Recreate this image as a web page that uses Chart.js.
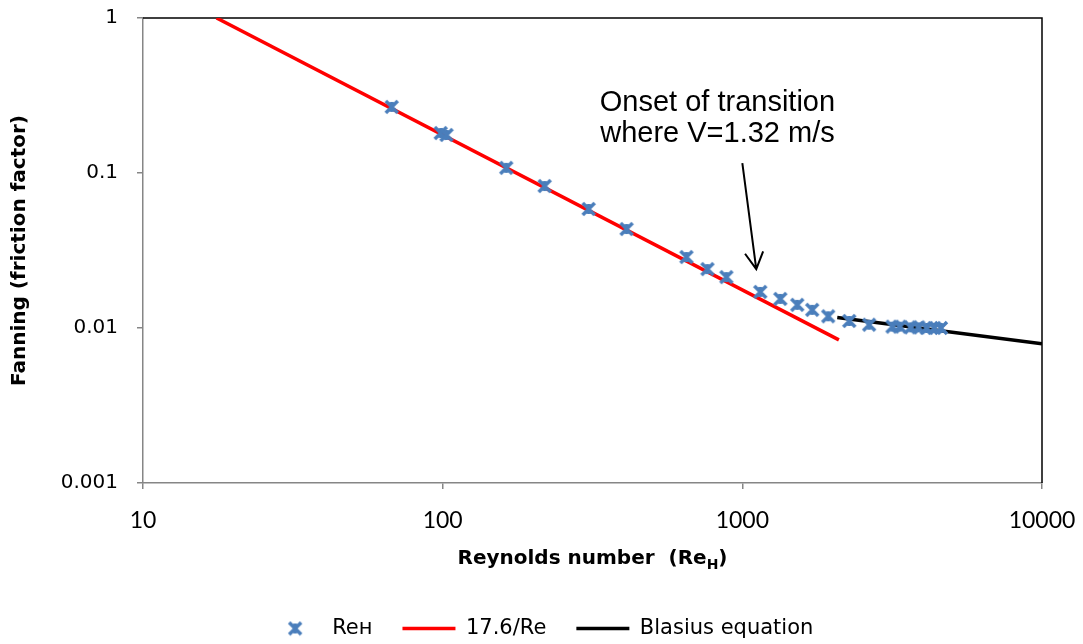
<!DOCTYPE html>
<html>
<head>
<meta charset="utf-8">
<script src="https://cdn.jsdelivr.net/npm/chart.js@4.4.1/dist/chart.umd.min.js"></script>
<style>
  html, body { margin: 0; padding: 0; background: #fff; }
</style>
</head>
<body>
<canvas id="frictionChart" width="1083" height="644"></canvas>
<script>
// measured points: Reynolds number (Re_H) vs Fanning friction factor
const reH = [67.6, 98.5, 103, 163, 219, 307, 411, 651, 765, 885, 1148, 1339, 1525, 1711, 1935, 2274, 2650, 3170, 3350, 3650, 3870, 4120, 4370, 4600];
const fanning = [0.267, 0.181, 0.176, 0.108, 0.0824, 0.0586, 0.0435, 0.0287, 0.0240, 0.0213, 0.0171, 0.0154, 0.0141, 0.0131, 0.0119, 0.0111, 0.0105, 0.0102, 0.0102, 0.0101, 0.0101, 0.0100, 0.0100, 0.0100];

// 17.6/Re line, end points
const laminarRe = [17.6, 2100];
const laminarF = [1, 0.00838];

// Blasius equation, end points
const blasiusRe = [2074, 10000];
const blasiusF = [0.0117, 0.00791];

const xTicks = [10, 100, 1000, 10000];
const yTicks = [0.001, 0.01, 0.1, 1];

// annotation (data coords)
const noteLines = ['Onset of transition', 'where V=1.32 m/s'];
const noteRe = 826;
const noteF = [0.251, 0.158];
const arrowFrom = [1000, 0.116];
const arrowTo = [1113, 0.024];

const toPoints = (xs, ys) => xs.map((x, i) => ({ x: x, y: ys[i] }));

// Excel style star marker (x with a vertical bar)
function starMarker(color) {
    const c = document.createElement('canvas');
    c.width = 16;
    c.height = 16;
    const g = c.getContext('2d');
    g.strokeStyle = color;
    g.lineWidth = 3.5;
    g.beginPath();
    g.moveTo(2, 2); g.lineTo(14, 14);
    g.moveTo(14, 2); g.lineTo(2, 14);
    g.moveTo(8, 3); g.lineTo(8, 13);
    g.stroke();
    return c;
}
const marker = starMarker('#4A7EBB');

const titleFont = '"DejaVu Sans", sans-serif';

const extras = {
    id: 'extras',
    afterLayout(chart) {
        chart.legend.left += 40;
        chart.legend.top += 5;
        chart.legend.bottom += 5;
    },
    beforeDatasetsDraw(chart) {
        const { ctx, chartArea: a } = chart;
        ctx.save();
        ctx.strokeStyle = '#000';
        ctx.lineWidth = 1.5;
        ctx.beginPath();
        ctx.moveTo(a.left, a.top);
        ctx.lineTo(a.right, a.top);
        ctx.lineTo(a.right, a.bottom);
        ctx.stroke();
        ctx.restore();
    },
    afterDraw(chart) {
        const { ctx, chartArea: a } = chart;
        const xs = chart.scales.x, ys = chart.scales.y;
        ctx.save();

        // note text
        ctx.fillStyle = '#000';
        ctx.font = '29px "Liberation Sans", Arial, sans-serif';
        ctx.textAlign = 'center';
        ctx.textBaseline = 'alphabetic';
        noteLines.forEach((t, i) => {
            ctx.fillText(t, xs.getPixelForValue(noteRe), ys.getPixelForValue(noteF[i]));
        });

        // arrow
        const x1 = xs.getPixelForValue(arrowFrom[0]), y1 = ys.getPixelForValue(arrowFrom[1]);
        const x2 = xs.getPixelForValue(arrowTo[0]), y2 = ys.getPixelForValue(arrowTo[1]);
        const ang = Math.atan2(y2 - y1, x2 - x1);
        ctx.strokeStyle = '#000';
        ctx.lineWidth = 2;
        ctx.beginPath();
        ctx.moveTo(x1, y1);
        ctx.lineTo(x2, y2);
        ctx.moveTo(x2 - 19 * Math.cos(ang - 0.5), y2 - 19 * Math.sin(ang - 0.5));
        ctx.lineTo(x2, y2);
        ctx.lineTo(x2 - 19 * Math.cos(ang + 0.5), y2 - 19 * Math.sin(ang + 0.5));
        ctx.stroke();

        // x axis title with subscript H
        const main = 'Reynolds number  (Re';
        const big = 'bold 20px ' + titleFont;
        const small = 'bold 14px ' + titleFont;
        ctx.font = big;
        const w1 = ctx.measureText(main).width;
        const w3 = ctx.measureText(')').width;
        ctx.font = small;
        const w2 = ctx.measureText('H').width;
        const cx = (a.left + a.right) / 2;
        const base = a.bottom + 81;
        let x = cx - (w1 + w2 + w3) / 2;
        ctx.textAlign = 'left';
        ctx.font = big;
        ctx.fillText(main, x, base);
        x += w1;
        ctx.font = small;
        ctx.fillText('H', x, base + 5);
        x += w2;
        ctx.font = big;
        ctx.fillText(')', x, base);
        ctx.restore();
    }
};

const ctx = document.getElementById('frictionChart').getContext('2d');
new Chart(ctx, {
    type: 'scatter',
    data: {
        datasets: [{
            label: 'Reн',
            data: toPoints(reH, fanning),
            pointStyle: marker,
            pointRadius: 7,
            showLine: false
        }, {
            label: '17.6/Re',
            data: toPoints(laminarRe, laminarF),
            showLine: true,
            borderColor: '#FF0000',
            borderWidth: 3.5,
            pointRadius: 0,
            pointStyle: 'line'
        }, {
            label: 'Blasius equation',
            data: toPoints(blasiusRe, blasiusF),
            showLine: true,
            borderColor: '#000000',
            borderWidth: 3.5,
            pointRadius: 0,
            pointStyle: 'line'
        }]
    },
    options: {
        responsive: false,
        animation: false,
        layout: { padding: { left: 0, right: 41, top: 18, bottom: 0 } },
        plugins: {
            tooltip: { enabled: false },
            legend: {
                position: 'bottom',
                labels: {
                    usePointStyle: true,
                    pointStyleWidth: 53,
                    padding: 30,
                    color: '#000',
                    font: { family: '"DejaVu Sans", sans-serif', size: 21 },
                    generateLabels(chart) {
                        return chart.data.datasets.map((ds, i) => ({
                            text: ds.label,
                            datasetIndex: i,
                            pointStyle: i === 0 ? marker : 'line',
                            strokeStyle: ds.borderColor || '#4A7EBB',
                            fillStyle: ds.borderColor || '#4A7EBB',
                            lineWidth: 3.5,
                            fontColor: '#000',
                            hidden: false
                        }));
                    }
                }
            }
        },
        scales: {
            x: {
                type: 'logarithmic',
                min: 10,
                max: 10000,
                afterBuildTicks(scale) {
                    scale.ticks = xTicks.map(v => ({ value: v }));
                },
                afterFit(scale) {
                    scale.height = scale.chart.height - 483 - scale.chart.legend.height;
                    scale.paddingLeft = 0;
                    scale.paddingRight = 0;
                },
                border: { color: '#868686', width: 1.5 },
                grid: { drawOnChartArea: false, color: '#868686', tickLength: 6, lineWidth: 1.5 },
                ticks: {
                    color: '#000',
                    padding: 18,
                    maxRotation: 0,
                    font: { family: 'Lato, sans-serif', size: 23 },
                    callback: v => String(v)
                }
            },
            y: {
                type: 'logarithmic',
                min: 0.001,
                max: 1,
                afterBuildTicks(scale) {
                    scale.ticks = yTicks.map(v => ({ value: v }));
                },
                afterFit(scale) {
                    scale.width = 143;
                    scale.paddingTop = 0;
                    scale.paddingBottom = 0;
                },
                border: { color: '#868686', width: 1.5 },
                grid: { drawOnChartArea: false, color: '#868686', tickLength: 6, lineWidth: 1.5 },
                title: {
                    display: true,
                    text: 'Fanning (friction factor)',
                    color: '#000',
                    padding: { top: 8, bottom: 0 },
                    font: { family: titleFont, size: 20, weight: 'bold' }
                },
                ticks: {
                    color: '#000',
                    padding: 19,
                    font: { family: '"DejaVu Sans", sans-serif', size: 20 },
                    callback: v => String(v)
                }
            }
        }
    },
    plugins: [extras]
});
</script>
</body>
</html>
